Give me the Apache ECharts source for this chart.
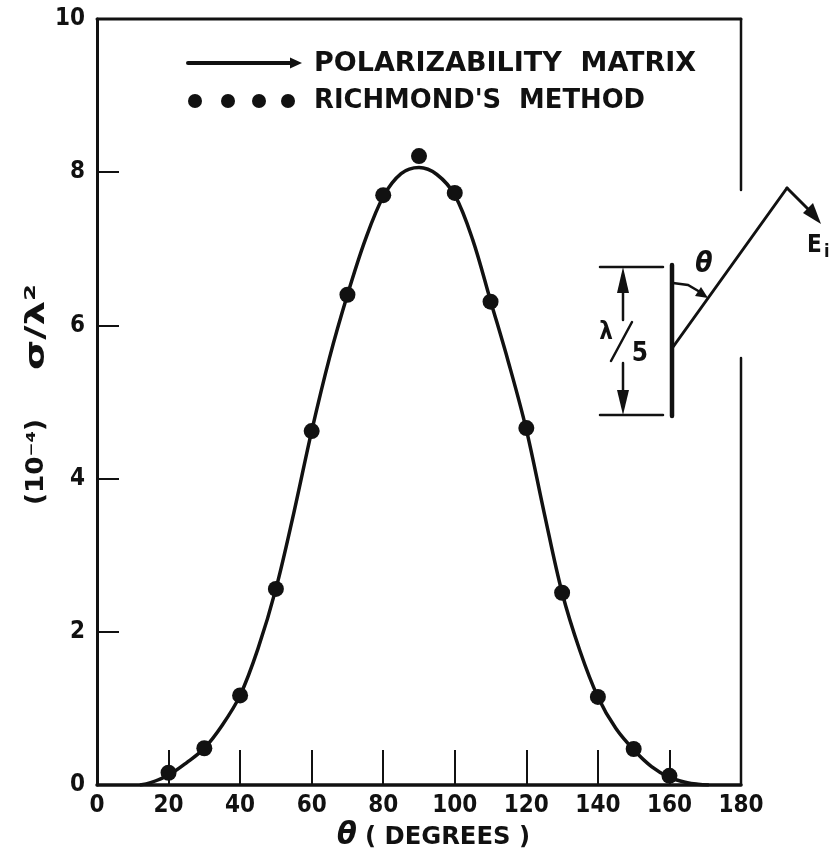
<!DOCTYPE html>
<html><head><meta charset="utf-8">
<script src="https://cdn.jsdelivr.net/npm/echarts/dist/echarts.min.js"></script>
<style>html,body{margin:0;padding:0;background:#fff}#c{width:834px;height:865px}</style>
</head><body><div id="c"></div>
<script>
// Polarizability matrix curve (theta in degrees, sigma/lambda^2 in 1e-4)
const curveTheta = [12,15,20,25,30,35,40,45,50,55,60,65,70,75,80,85,90,95,100,105,110,115,120,125,130,135,140,145,150,155,160,165,168,171];
const curveValue = [0,0.03,0.13,0.29,0.48,0.78,1.17,1.78,2.56,3.55,4.62,5.58,6.4,7.12,7.68,7.98,8.06,7.97,7.7,7.12,6.32,5.52,4.64,3.55,2.51,1.75,1.15,0.74,0.46,0.24,0.1,0.03,0.01,0];
// Richmond's method points
const dotTheta = [20,30,40,50,60,70,80,90,100,110,120,130,140,150,160];
const dotValue = [0.16,0.48,1.17,2.56,4.62,6.4,7.7,8.21,7.73,6.31,4.66,2.51,1.15,0.47,0.12];
const legendNames = ['POLARIZABILITY  MATRIX', "RICHMOND'S  METHOD"];
const xAxisTitle = '( DEGREES )';
const yAxisTitleA = '(10⁻⁴)';
const yAxisTitleB = 'σ/λ²';

const FF = '"DejaVu Sans Condensed","DejaVu Sans"';
const INK = '#111';
const chart = echarts.init(document.getElementById('c'), null, {renderer:'canvas'});

const mctx = document.createElement('canvas').getContext('2d');
function fit(text, font, width){ mctx.font = font; return width / mctx.measureText(text).width; }

function L(x1,y1,x2,y2,w){return {type:'line',shape:{x1,y1,x2,y2},style:{stroke:INK,lineWidth:w||2,lineCap:'round'},z:10};}
function P(pts){return {type:'polygon',shape:{points:pts},style:{fill:INK},z:10};}
function T(x,y,text,font,extra,align){return Object.assign({type:'text',x,y,style:{text,font,fill:INK,textAlign:align||'left',textVerticalAlign:'middle'},z:10},extra||{});}

const legFont = 'bold 26px '+FF;
const axFont = 'bold 24px '+FF;
const graphics = [
  // frame top and right (right has gap for inset)
  L(97,19,741,19,3),
  L(741,19,741,190,2.5),
  L(741,358,741,785,2.5),
  // legend
  L(188,63,294,63,4),
  P([[290,57.5],[302,63],[290,68.5]]),
  T(314,64,legendNames[0],legFont,{scaleX:fit(legendNames[0],legFont,382)}),
  {type:'circle',shape:{cx:195,cy:101,r:7},style:{fill:INK},z:10},
  {type:'circle',shape:{cx:228,cy:101,r:7},style:{fill:INK},z:10},
  {type:'circle',shape:{cx:259,cy:101,r:7},style:{fill:INK},z:10},
  {type:'circle',shape:{cx:288,cy:101,r:7},style:{fill:INK},z:10},
  T(314,101,legendNames[1],legFont,{scaleX:fit(legendNames[1],legFont,331)}),
  // inset: antenna
  L(672,265,672,416,4.5),
  L(600,267,663,267,2.5),
  L(600,415,663,415,2.5),
  L(623,280,623,320,2.5),
  P([[623,267],[617,293],[629,293]]),
  L(623,363,623,402,2.5),
  P([[623,415],[617,390],[629,390]]),
  T(606,333,'λ','bold 24px '+FF,null,'center'),
  L(611,361,632,322,2.5),
  T(640,354,'5','bold 26px '+FF,null,'center'),
  // incident ray
  L(673,347,787,188,3),
  L(787,188,812,213,3),
  P([[821,224],[803,213],[813,203]]),
  T(807,246,'E','bold 24px '+FF),
  T(824,252,'i','bold 18px '+FF),
  // angle arrow
  {type:'polyline',shape:{points:[[673,283],[688,285],[700,292]]},style:{stroke:INK,lineWidth:2.5,fill:null},z:10},
  P([[708,298],[695,296],[701,287]]),
  T(704,265,'θ','italic bold 28px '+FF,null,'center'),
  // axis titles
  T(347,836,'θ','italic bold 32px '+FF,null,'center'),
  T(365,838,xAxisTitle,axFont,{scaleX:fit(xAxisTitle,axFont,165)}),
  T(37,462,yAxisTitleA,axFont,{rotation:Math.PI/2,scaleX:fit(yAxisTitleA,axFont,86)},'center'),
  T(37,327,yAxisTitleB,'bold 27px '+FF,{rotation:Math.PI/2,scaleX:fit(yAxisTitleB,'bold 27px '+FF,86)},'center')
];

chart.setOption({
  animation:false,
  backgroundColor:'#fff',
  grid:{left:97,right:93,top:19,bottom:80,containLabel:false},
  xAxis:{type:'value',min:0,max:180,interval:20,
    axisLine:{lineStyle:{color:INK,width:3.5}},
    axisTick:{inside:true,length:35,lineStyle:{color:INK,width:2}},
    axisLabel:{color:INK,fontSize:24,fontWeight:'bold',fontFamily:'DejaVu Sans Condensed',margin:9},
    splitLine:{show:false}},
  yAxis:{type:'value',min:0,max:10,interval:2,
    axisLine:{show:true,lineStyle:{color:INK,width:3}},
    axisTick:{show:true,inside:true,length:22,lineStyle:{color:INK,width:2}},
    axisLabel:{color:INK,fontSize:24,fontWeight:'bold',fontFamily:'DejaVu Sans Condensed',margin:12},
    splitLine:{show:false}},
  series:[
    {type:'line',data:curveTheta.map((t,i)=>[t,curveValue[i]]),smooth:0.35,symbol:'none',
     lineStyle:{color:INK,width:3.5},z:2},
    {type:'scatter',data:dotTheta.map((t,i)=>[t,dotValue[i]]),symbol:'circle',symbolSize:16,
     itemStyle:{color:INK,opacity:1},z:3}
  ],
  graphic:graphics
});
</script></body></html>
